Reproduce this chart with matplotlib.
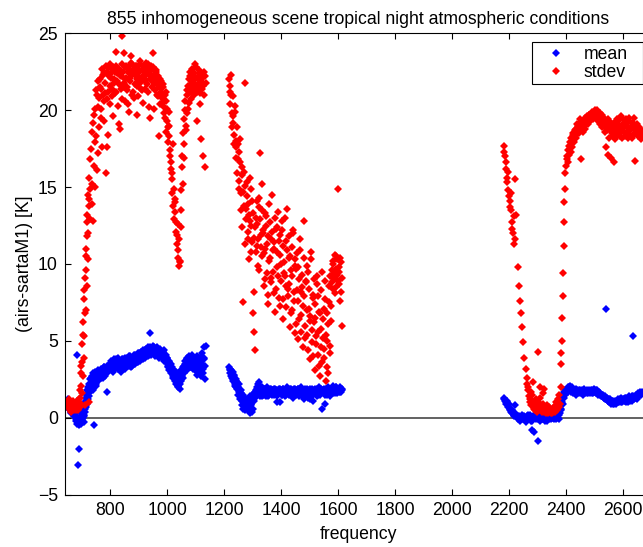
import matplotlib
matplotlib.use("Agg")
import matplotlib.pyplot as plt

# ---------------- data ----------------
# band 1 (main channel set)
freq_b1 = [650, 653, 656, 659, 662, 665, 668, 671, 674, 677, 680, 683, 686, 689, 692,
           694, 695.5, 697, 698.5, 700, 701.5, 703, 704.5, 706, 707.5, 709, 710.5, 712, 713.5, 715,
           716.5, 718, 719.5, 721, 722.5, 724, 725.5, 727, 728.5, 730,
           733, 736, 739, 742, 745, 748, 751, 754, 757, 760, 763, 766, 769, 772, 775, 778, 781, 784,
           787, 790, 793, 796, 799,
           802, 805, 808, 811, 814, 817, 820, 823, 826, 829,
           832, 835, 838, 841, 844, 847, 850, 853, 856, 859,
           862, 865, 868, 871, 874, 877, 880, 883, 886, 889,
           892, 895, 898, 901, 904, 907, 910, 913, 916, 919,
           922, 925, 928, 931, 934, 937, 940, 943, 946, 949,
           952, 955, 958, 961, 964, 967, 970, 973, 976, 979,
           982, 985, 988, 991, 994, 997, 1000, 1003, 1006, 1009, 1012, 1015, 1018, 1021, 1024,
           1027, 1030, 1033, 1036, 1039, 1042,
           1045, 1048, 1051, 1054, 1057, 1060, 1063, 1066, 1069, 1072, 1075, 1078, 1081, 1084, 1087,
           1090, 1093, 1096, 1099, 1102, 1105, 1108, 1111, 1114, 1117, 1120, 1123, 1126, 1129, 1132, 1135]
mean_b1 = [0.9, 1.2, 0.6, 0.8, 0.4, 0.7, 0.5, 0.3, 0.6, 0.2, -0.1, 4.1, -3.1, -2.0, -0.3,
           -0.2, 0.1, -0.4, 0.3, -0.1, 0.5, 0.0, 0.6, -0.3, 0.8, 0.2, 1.0, 0.4, 1.3, 0.7,
           1.5, 0.9, 1.8, 1.2, 2.0, 1.6, 2.2, 1.4, 2.5, 1.9,
           2.6, 2.0, 2.9, -0.5, 2.4, 3.0, 2.2, 2.7, 3.1, 2.5, 2.8, 3.2, 2.6, 3.0, 2.9, 3.3, 2.7, 3.1,
           3.4, 1.7, 3.0, 3.3, 3.5,
           3.3, 3.6, 3.1, 3.5, 3.8, 3.2, 3.6, 3.4, 3.9, 3.3,
           3.7, 3.5, 3.0, 3.8, 3.4, 3.6, 3.9, 3.2, 3.7, 3.5,
           3.8, 3.4, 4.0, 3.6, 3.3, 3.9, 3.7, 4.1, 3.5, 3.8,
           4.0, 3.6, 4.2, 3.9, 3.7, 4.3, 4.0, 3.8, 4.4, 4.1,
           3.9, 4.5, 4.2, 4.0, 4.6, 4.3, 5.5, 4.1, 4.4, 4.7,
           4.2, 4.5, 4.0, 4.4, 4.6, 4.2, 3.9, 4.3, 4.5, 4.1,
           4.3, 4.0, 4.4, 3.8, 4.1, 3.6, 3.9, 3.4, 3.7, 3.2, 3.5, 2.9, 3.3, 2.7, 3.1,
           2.5, 3.0, 2.3, 2.8, 2.0, 2.6,
           1.9, 2.4, 3.0, 2.6, 3.4, 2.9, 3.7, 3.2, 3.9, 3.5, 4.0, 3.3, 3.8, 3.6, 4.1,
           3.4, 3.9, 3.1, 3.7, 3.5, 2.8, 3.6, 3.2, 3.9, 3.0, 3.5, 4.2, 2.9, 3.8, 2.5, 4.7]
stdev_b1 = [1.0, 0.7, 0.9, 0.5, 0.8, 0.6, 1.1, 0.5, 0.7, 0.9, 0.6, 0.8, 0.5, 1.2, 0.7,
            1.3, 2.1, 0.9, 3.4, 1.6, 4.8, 2.7, 6.2, 3.9, 7.7, 5.3, 9.1, 0.8, 10.5, 7.0,
            11.8, 13.2, 8.6, 14.5, 12.0, 15.6, 13.8, 1.0, 16.8, 14.9,
            17.5, 13.9, 19.2, 16.4, 20.1, 15.0, 18.3, 21.0, 17.2, 20.8, 22.0, 19.5, 21.4, 17.6, 22.3,
            20.6, 21.8, 15.9, 22.5, 17.6, 21.2, 22.8, 20.4,
            22.1, 21.4, 22.6, 19.6, 22.0, 21.1, 23.8, 22.4, 20.3, 21.7,
            22.7, 18.8, 22.2, 24.8, 21.5, 23.7, 22.0, 20.6, 22.9, 21.3,
            22.5, 19.9, 22.1, 23.1, 23.5, 21.0, 22.6, 20.8, 22.3, 22.9,
            21.6, 19.7, 22.7, 22.1, 23.0, 21.4, 22.6, 22.2, 20.5, 22.8,
            21.9, 23.1, 22.4, 21.2, 22.7, 20.2, 22.0, 22.9, 21.5, 23.7,
            22.3, 20.1, 21.8, 22.6, 21.0, 22.2, 18.3, 21.6, 20.4, 21.9,
            20.8, 21.5, 20.2, 19.5, 21.2, 18.6, 20.1, 17.9, 19.0, 17.0, 16.2, 15.5, 14.6, 13.8, 12.9,
            14.2, 12.1, 11.3, 10.4, 12.6, 9.9,
            10.2, 13.5, 17.0, 15.2, 19.4, 17.8, 20.6, 19.0, 21.3, 20.1, 22.0, 21.2, 22.5, 20.7, 21.8,
            22.3, 21.0, 23.0, 21.6, 22.1, 19.3, 21.7, 22.4, 21.1, 18.1, 22.0, 21.4, 17.0, 22.2, 16.3, 21.8]

# band 1 (interleaved channels)
freq_b1x = [651.5, 654.5, 657.5, 660.5, 663.5, 666.5, 669.5, 672.5, 675.5, 678.5, 681.5, 684.5, 687.5, 690.5,
            695, 698, 701, 704, 707, 710, 713, 716, 719, 722, 725, 728,
            734.5, 737.5, 740.5, 743.5, 746.5, 749.5, 752.5, 755.5, 758.5, 761.5,
            764.5, 767.5, 770.5, 773.5, 776.5, 779.5, 782.5, 785.5, 788.5, 791.5,
            794.5, 797.5, 800.5, 803.5, 806.5, 809.5, 812.5, 815.5, 818.5, 821.5,
            824.5, 827.5, 830.5, 833.5, 836.5, 839.5, 842.5, 845.5, 848.5, 851.5,
            854.5, 857.5, 860.5, 863.5, 866.5, 869.5, 872.5, 875.5, 878.5, 881.5,
            884.5, 887.5, 890.5, 893.5, 896.5, 899.5, 902.5, 905.5, 908.5, 911.5,
            914.5, 917.5, 920.5, 923.5, 926.5, 929.5, 932.5, 935.5, 938.5, 941.5,
            944.5, 947.5, 950.5, 953.5, 956.5, 959.5, 962.5, 965.5, 968.5, 971.5,
            974.5, 977.5, 980.5, 983.5, 986.5, 989.5, 992.5, 995.5, 998.5, 1001.5,
            1004.5, 1007.5, 1010.5, 1013.5, 1016.5, 1019.5, 1022.5, 1025.5, 1028.5, 1031.5,
            1034.5, 1037.5, 1040.5, 1043.5, 1046.5, 1049.5, 1052.5, 1055.5, 1058.5, 1061.5,
            1064.5, 1067.5, 1070.5, 1073.5, 1076.5, 1079.5, 1082.5, 1085.5, 1088.5, 1091.5,
            1094.5, 1097.5, 1100.5, 1103.5, 1106.5, 1109.5, 1112.5, 1115.5, 1118.5, 1121.5,
            1124.5, 1127.5, 1130.5, 1133.5]
mean_b1x = [0.7, 1.0, 0.5, 0.3, 0.8, 0.4, 0.6, 0.1, 0.3, -0.2, 0.0, -0.4, -0.1, -0.5,
            0.0, -0.2, 0.2, 0.4, 0.1, 0.6, 0.9, 1.1, 1.4, 1.7, 1.9, 2.2,
            2.3, 2.7, 1.8, 2.5, 2.8, 2.1, 2.9, 2.4, 2.6, 3.0,
            2.7, 3.1, 2.9, 2.6, 3.3, 2.8, 3.2, 2.9, 3.0, 3.4,
            3.1, 3.5, 3.2, 3.7, 3.4, 3.0, 3.6, 3.3, 3.5, 3.8,
            3.4, 3.2, 3.7, 3.5, 3.1, 3.6, 3.3, 3.8, 3.5, 3.4,
            3.6, 3.9, 3.5, 3.8, 4.0, 3.6, 3.9, 3.4, 3.8, 4.0,
            3.7, 4.1, 3.8, 4.0, 3.6, 4.2, 3.9, 4.1, 3.8, 4.3,
            4.0, 4.3, 4.1, 4.4, 4.2, 4.5, 4.3, 4.1, 4.6, 4.4,
            4.2, 4.5, 4.3, 4.6, 4.2, 4.4, 4.1, 4.5, 4.3, 4.0,
            4.4, 4.2, 3.9, 4.3, 4.0, 3.7, 4.1, 3.6, 3.9, 3.3,
            3.6, 3.1, 3.4, 2.9, 3.2, 2.6, 3.0, 2.4, 2.9, 2.2,
            2.7, 2.1, 2.5, 2.2, 2.8, 3.1, 2.7, 3.3, 3.0, 3.5,
            3.4, 3.8, 3.1, 3.6, 3.9, 3.3, 3.7, 4.0, 3.2, 3.6,
            3.8, 3.3, 3.6, 4.0, 3.1, 3.7, 3.4, 3.9, 2.7, 3.5,
            3.2, 3.9, 4.6, 3.4]
stdev_b1x = [0.8, 1.2, 0.6, 0.9, 0.4, 1.0, 0.7, 0.6, 0.9, 0.5, 0.8, 1.1, 0.6, 0.9,
             1.8, 2.9, 3.6, 5.4, 8.3, 6.8, 11.0, 9.6, 12.7, 10.3, 14.2, 12.9,
             15.2, 18.6, 12.8, 19.7, 17.9, 21.3, 16.1, 20.2, 21.9, 18.9,
             21.5, 20.1, 22.7, 21.0, 19.3, 22.4, 21.1, 22.9, 20.7, 18.4,
             22.2, 21.6, 23.0, 22.4, 20.9, 22.8, 21.8, 22.5, 21.2, 22.9,
             21.9, 22.6, 19.1, 22.3, 21.4, 23.0, 20.7, 22.5, 21.8, 22.8,
             22.1, 21.5, 22.8, 20.4, 22.6, 21.9, 22.3, 23.0, 21.2, 22.7,
             22.4, 21.7, 22.9, 22.0, 20.9, 22.5, 21.8, 23.2, 22.1, 21.3,
             22.6, 22.0, 21.4, 22.8, 22.3, 21.7, 23.0, 22.5, 19.5, 22.2,
             22.6, 21.9, 22.8, 22.2, 21.3, 22.5, 21.8, 22.0, 20.9, 21.5,
             22.0, 21.2, 20.5, 21.7, 20.9, 19.8, 21.0, 20.6, 19.3, 18.9,
             18.3, 19.9, 17.4, 16.6, 15.9, 17.8, 14.9, 14.0, 13.4, 12.7,
             11.9, 10.9, 11.6, 10.1, 12.4, 14.8, 16.3, 18.5, 16.9, 20.0,
             18.7, 21.0, 19.8, 21.6, 20.5, 22.2, 21.5, 22.7, 21.3, 22.0,
             22.4, 21.7, 22.8, 21.2, 22.1, 21.5, 22.6, 20.4, 21.9, 22.3,
             21.6, 22.5, 21.0, 22.2]

# band 2 (main channel set)
freq_b2 = [1217, 1220, 1223, 1226, 1229, 1232, 1235, 1238, 1241, 1244,
           1247, 1250, 1253, 1256, 1259, 1262, 1265, 1268, 1271, 1274,
           1277, 1280, 1283, 1286, 1289, 1292, 1295, 1298, 1301, 1304,
           1307, 1310, 1313, 1316, 1319, 1322, 1325, 1328, 1331, 1334,
           1337, 1340, 1343, 1346, 1349, 1352, 1355, 1358, 1361, 1364,
           1367, 1370, 1373, 1376, 1379, 1382, 1385, 1388, 1391, 1394,
           1397, 1400, 1403, 1406, 1409, 1412, 1415, 1418, 1421, 1424,
           1427, 1430, 1433, 1436, 1439, 1442, 1445, 1448, 1451, 1454,
           1457, 1460, 1463, 1466, 1469, 1472, 1475, 1478, 1481, 1484,
           1487, 1490, 1493, 1496, 1499, 1502, 1505, 1508, 1511, 1514,
           1517, 1520, 1523, 1526, 1529, 1532, 1535, 1538, 1541, 1544,
           1547, 1550, 1553, 1556, 1559, 1562, 1565, 1568, 1571, 1574,
           1577, 1580, 1583, 1586, 1589, 1592, 1595, 1598, 1601, 1604,
           1607, 1610, 1613]
mean_b2 = [3.3, 2.9, 3.1, 2.6, 3.0, 2.4, 2.8, 2.2, 2.5, 1.9,
           2.0, 1.7, 2.2, 1.4, 1.8, 1.1, 1.5, 0.9, 1.3, 0.7,
           1.1, 0.6, 1.0, 0.8, 1.4, 0.5, 0.9, 0.4, 1.2, 1.6,
           1.3, 1.8, 2.0, 1.5, 1.7, 2.3, 1.6, 1.9, 1.4, 1.8,
           1.7, 1.5, 1.9, 1.6, 2.0, 1.8, 1.4, 1.7, 1.9, 1.6,
           1.8, 1.7, 1.5, 1.9, 1.6, 1.8, 1.0, 1.7, 1.9, 1.0,
           1.6, 1.8, 1.5, 1.9, 1.7, 1.4, 1.8, 1.6, 2.0, 1.7,
           1.5, 1.9, 1.7, 1.6, 1.8, 1.3, 1.9, 1.7, 1.5, 1.8,
           1.6, 1.9, 1.4, 1.7, 2.0, 1.5, 1.8, 1.2, 1.7, 1.9,
           1.6, 1.8, 1.3, 1.7, 1.9, 1.5, 1.8, 1.6, 1.1, 1.7,
           1.9, 1.6, 1.8, 1.4, 1.7, 2.0, 1.5, 1.8, 1.6, 0.6,
           1.7, 1.9, 0.9, 1.6, 1.8, 1.5, 2.0, 1.7, 1.4, 1.8,
           1.9, 1.6, 2.1, 1.7, 1.8, 2.0, 1.6, 1.9, 1.7, 1.8,
           2.0, 1.7, 1.9]
stdev_b2 = [22.0, 21.2, 22.3, 19.8, 20.9, 19.2, 18.4, 20.3, 17.6, 18.9,
            16.8, 17.3, 15.4, 18.1, 14.6, 16.3, 7.5, 13.8, 21.8, 15.1,
            12.9, 14.4, 11.6, 13.2, 15.6, 10.8, 12.5, 14.1, 6.8, 5.6,
            4.4, 13.0, 11.2, 12.6, 9.9, 14.3, 17.2, 11.9, 13.5, 10.5,
            12.2, 8.6, 11.0, 13.1, 9.4, 11.8, 7.4, 10.2, 12.7, 9.1,
            14.5, 10.9, 8.1, 11.4, 6.9, 12.3, 9.8, 13.4, 7.8, 10.6,
            11.9, 8.9, 12.8, 6.4, 10.1, 9.2, 11.5, 7.2, 13.6, 8.4,
            10.4, 5.9, 9.6, 11.1, 7.0, 12.0, 8.2, 9.9, 6.1, 10.7,
            7.6, 5.1, 9.0, 11.6, 6.7, 8.5, 4.6, 7.9, 12.8, 6.0,
            8.8, 5.4, 9.5, 7.1, 3.8, 6.6, 10.3, 4.9, 8.0, 6.2,
            3.1, 7.4, 5.3, 9.2, 4.1, 6.9, 2.7, 5.8, 8.3, 3.6,
            6.4, 4.5, 7.7, 2.4, 5.0, 3.3, 6.1, 8.6, 4.2, 7.3,
            9.6, 8.4, 10.2, 9.0, 8.1, 10.5, 9.3, 14.9, 8.7, 9.8,
            7.6, 10.1, 6.0]

# band 2 (interleaved channels)
freq_b2x = [1218.5, 1221.5, 1224.5, 1227.5, 1230.5, 1233.5, 1236.5, 1239.5, 1242.5, 1245.5,
            1248.5, 1251.5, 1254.5, 1257.5, 1260.5, 1263.5, 1266.5, 1269.5, 1272.5, 1275.5,
            1278.5, 1281.5, 1284.5, 1287.5, 1290.5, 1293.5, 1296.5, 1299.5, 1302.5, 1305.5,
            1308.5, 1311.5, 1314.5, 1317.5, 1320.5, 1323.5, 1326.5, 1329.5, 1332.5, 1335.5,
            1338.5, 1341.5, 1344.5, 1347.5, 1350.5, 1353.5, 1356.5, 1359.5, 1362.5, 1365.5,
            1368.5, 1371.5, 1374.5, 1377.5, 1380.5, 1383.5, 1386.5, 1389.5, 1392.5, 1395.5,
            1398.5, 1401.5, 1404.5, 1407.5, 1410.5, 1413.5, 1416.5, 1419.5, 1422.5, 1425.5,
            1428.5, 1431.5, 1434.5, 1437.5, 1440.5, 1443.5, 1446.5, 1449.5, 1452.5, 1455.5,
            1458.5, 1461.5, 1464.5, 1467.5, 1470.5, 1473.5, 1476.5, 1479.5, 1482.5, 1485.5,
            1488.5, 1491.5, 1494.5, 1497.5, 1500.5, 1503.5, 1506.5, 1509.5, 1512.5, 1515.5,
            1518.5, 1521.5, 1524.5, 1527.5, 1530.5, 1533.5, 1536.5, 1539.5, 1542.5, 1545.5,
            1548.5, 1551.5, 1554.5, 1557.5, 1560.5, 1563.5, 1566.5, 1569.5, 1572.5, 1575.5,
            1578.5, 1581.5, 1584.5, 1587.5, 1590.5, 1593.5, 1596.5, 1599.5, 1602.5, 1605.5,
            1608.5, 1611.5]
mean_b2x = [3.1, 3.2, 2.7, 2.9, 2.5, 2.7, 2.1, 2.4, 2.0, 2.3,
            1.5, 1.9, 1.2, 1.6, 0.8, 1.3, 0.6, 1.0, 0.5, 0.9,
            0.7, 1.2, 0.5, 1.0, 0.3, 0.8, 1.1, 0.6, 1.4, 1.1,
            1.7, 1.5, 1.9, 2.2, 1.6, 1.8, 1.4, 1.7, 2.0, 1.5,
            1.8, 1.6, 1.9, 1.4, 1.7, 1.9, 1.5, 1.8, 1.6, 1.9,
            1.5, 1.8, 1.6, 1.9, 1.7, 1.4, 1.8, 1.6, 1.7, 1.9,
            1.7, 1.5, 1.9, 1.6, 1.8, 1.7, 1.5, 1.9, 1.6, 1.8,
            1.8, 1.6, 1.9, 1.7, 1.5, 1.8, 1.6, 1.9, 1.7, 1.6,
            1.9, 1.7, 1.5, 1.8, 1.6, 1.9, 1.7, 1.4, 1.8, 1.6,
            1.7, 1.9, 1.6, 1.8, 1.2, 1.7, 1.9, 1.5, 1.8, 1.6,
            1.8, 1.6, 1.9, 1.7, 1.5, 1.8, 1.6, 1.9, 1.7, 1.8,
            1.6, 1.8, 1.5, 1.9, 1.7, 1.6, 1.8, 1.9, 1.5, 1.7,
            1.8, 1.7, 1.9, 1.6, 1.8, 2.0, 1.7, 1.9, 1.8, 1.7,
            1.9, 1.8]
stdev_b2x = [21.6, 20.4, 21.0, 18.9, 19.6, 17.8, 19.9, 16.9, 18.0, 15.9,
             17.8, 14.9, 16.6, 13.5, 15.8, 12.4, 14.7, 16.0, 11.3, 13.6,
             15.3, 12.1, 13.9, 10.3, 12.8, 14.9, 11.4, 13.3, 8.2, 11.7,
             12.4, 10.8, 14.1, 11.6, 13.7, 9.6, 12.9, 11.1, 15.2, 12.0,
             10.7, 13.3, 9.0, 12.5, 11.3, 8.0, 13.9, 10.4, 11.6, 8.8,
             12.1, 9.5, 11.0, 13.0, 8.4, 10.8, 12.4, 9.2, 11.5, 7.3,
             10.0, 12.2, 7.7, 11.2, 9.4, 13.0, 8.6, 10.9, 7.9, 11.8,
             8.7, 10.5, 6.8, 9.2, 12.2, 7.6, 10.3, 5.5, 9.7, 8.3,
             9.8, 6.4, 10.9, 8.2, 5.6, 9.3, 7.3, 10.4, 5.2, 8.9,
             7.0, 9.9, 4.4, 8.4, 6.3, 10.8, 5.7, 7.8, 4.0, 9.0,
             6.5, 4.8, 8.7, 5.6, 7.9, 3.4, 6.8, 4.6, 9.5, 5.2,
             7.1, 3.9, 8.9, 5.4, 6.8, 2.9, 7.5, 4.7, 9.2, 6.3,
             8.8, 10.0, 9.4, 10.6, 8.5, 9.7, 10.3, 8.9, 9.5, 10.4,
             8.2, 9.1]

# band 3 (main channel set)
freq_b3 = [2181, 2185, 2189, 2193, 2197, 2201, 2205, 2209, 2213, 2217,
           2221, 2225, 2229, 2233, 2237, 2241, 2245, 2249, 2253, 2257,
           2261, 2265, 2269, 2273, 2277, 2281, 2285, 2289, 2293, 2297,
           2301, 2305, 2309, 2313, 2317, 2321, 2325, 2329, 2333, 2337,
           2341, 2345, 2349, 2353, 2357, 2361, 2365, 2369, 2373, 2377,
           2380, 2381.5, 2383, 2384.5, 2386, 2387.5, 2389, 2390.5, 2392, 2393.5, 2395, 2397, 2399,
           2401, 2405, 2409, 2413, 2417, 2421, 2425, 2429, 2433, 2437,
           2441, 2445, 2449, 2453, 2457, 2461, 2465, 2469, 2473, 2477,
           2481, 2485, 2489, 2493, 2497, 2501, 2505, 2509, 2513, 2517,
           2521, 2525, 2529, 2533, 2537, 2541, 2545, 2549, 2553, 2557,
           2561, 2565, 2569, 2573, 2577, 2581, 2585, 2589, 2593, 2597,
           2601, 2605, 2609, 2613, 2617, 2621, 2625, 2629, 2633, 2637,
           2641, 2645, 2649, 2653, 2657, 2661, 2665]
mean_b3 = [1.3, 1.1, 0.9, 1.0, 0.7, 0.5, 0.6, 0.3, 0.4, 0.1,
           0.8, 0.2, -0.1, 0.1, -0.2, 0.0, 0.2, -0.1, 0.1, -0.3,
           0.0, 0.2, -0.1, 0.1, -0.2, -0.8, 0.0, 0.2, -0.1, 0.1,
           -1.5, 0.0, 0.2, -0.1, 0.1, 0.0, -0.2, 0.1, 0.0, 0.2,
           -0.1, 0.1, 0.0, 0.2, -0.1, 0.1, 0.0, 0.2, -0.1, 0.3,
           0.5, 0.8, 0.6, 1.0, 1.2, 0.9, 1.4, 1.6, 1.3, 1.7, 1.5, 1.8, 1.6,
           1.9, 1.7, 2.0, 2.1, 1.8, 1.9, 1.6, 1.7, 1.5, 1.8,
           1.7, 1.6, 1.8, 1.7, 1.5, 1.8, 1.6, 1.7, 1.8, 1.6,
           1.7, 1.8, 1.6, 1.7, 1.9, 1.7, 1.6, 1.8, 1.7, 1.6,
           1.5, 1.4, 1.5, 1.3, 1.2, 7.1, 1.1, 1.0, 1.2, 0.9,
           1.1, 1.0, 0.9, 1.1, 1.0, 1.2, 1.0, 1.1, 1.3, 1.0,
           1.2, 1.1, 1.3, 1.2, 1.0, 1.3, 1.1, 1.4, 5.3, 1.2,
           1.3, 1.5, 1.2, 1.4, 1.6, 1.5, 1.7]
stdev_b3 = [17.7, 17.0, 16.2, 15.6, 14.8, 14.1, 13.5, 12.7, 12.0, 11.3,
            15.5, 13.2, 9.8, 8.6, 7.6, 6.8, 5.9, 4.9, 3.9, 3.2,
            2.2, 1.8, 1.4, 1.0, 0.8, 1.5, 0.6, 0.5, 1.2, 0.4,
            4.3, 0.7, 2.0, 0.4, 0.9, 1.9, 0.5, 0.3, 0.8, 0.4,
            0.6, 0.3, 0.5, 0.4, 0.7, 0.5, 1.0, 0.6, 1.5, 0.9,
            2.0, 3.5, 4.2, 5.0, 6.5, 7.9, 9.4, 11.2, 12.7, 14.0, 14.9, 15.9, 16.4,
            16.8, 17.4, 17.1, 17.9, 18.2, 17.6, 18.5, 18.3, 18.8, 18.6,
            19.0, 18.7, 19.2, 16.8, 19.3, 19.0, 19.5, 19.2, 19.6, 19.4,
            19.7, 19.5, 19.8, 19.6, 19.9, 20.0, 19.7, 19.9, 19.6, 19.8,
            19.4, 19.7, 19.2, 19.5, 18.9, 17.6, 17.1, 19.3, 18.7, 16.9,
            19.1, 18.4, 16.6, 18.9, 19.4, 18.6, 19.0, 18.3, 19.6, 18.8,
            19.2, 18.5, 19.4, 18.9, 18.2, 19.3, 18.7, 19.0, 18.4, 19.5,
            16.7, 18.6, 19.1, 18.3, 18.8, 18.1, 18.6]

# band 3 (interleaved channels)
freq_b3x = [2183, 2187, 2191, 2195, 2199, 2203, 2207, 2211, 2215, 2219,
            2263, 2267, 2271, 2275, 2279, 2283, 2287, 2291, 2295, 2299,
            2303, 2307, 2311, 2315, 2319, 2323, 2327, 2331, 2335, 2339,
            2343, 2347, 2351, 2355, 2359, 2363, 2367, 2371, 2375,
            2403, 2407, 2411, 2415, 2419, 2423, 2427, 2431, 2435, 2439,
            2443, 2447, 2451, 2455, 2459, 2463, 2467, 2471, 2475, 2479,
            2483, 2487, 2491, 2495, 2499, 2503, 2507, 2511, 2515, 2519,
            2523, 2527, 2531, 2535, 2539, 2543, 2547, 2551, 2555, 2559,
            2563, 2567, 2571, 2575, 2579, 2583, 2587, 2591, 2595, 2599,
            2603, 2607, 2611, 2615, 2619, 2623, 2627, 2631, 2635, 2639,
            2643, 2647, 2651, 2655, 2659, 2663]
mean_b3x = [1.2, 1.0, 1.1, 0.8, 0.9, 0.6, 0.4, 0.5, 0.2, 0.3,
            0.1, -0.1, 0.2, 0.0, -0.2, 0.1, -0.9, 0.0, 0.2, -0.1,
            0.1, -0.2, 0.0, 0.2, -0.1, 0.1, 0.0, -0.2, 0.1, 0.0,
            0.2, -0.1, 0.1, 0.0, 0.2, -0.1, 0.1, 0.0, 0.2,
            1.8, 2.0, 1.9, 1.7, 2.0, 1.7, 1.8, 1.6, 1.9, 1.6,
            1.8, 1.7, 1.6, 1.8, 1.7, 1.9, 1.7, 1.6, 1.7, 1.8,
            1.6, 1.7, 1.8, 1.6, 1.7, 1.8, 1.7, 1.5, 1.6, 1.5,
            1.4, 1.5, 1.3, 1.4, 1.2, 1.3, 1.1, 1.2, 1.0, 1.1,
            0.9, 1.1, 1.0, 0.9, 1.1, 1.0, 1.2, 1.0, 1.1, 1.2,
            1.1, 1.3, 1.0, 1.2, 1.4, 1.2, 1.3, 1.1, 1.4, 1.3,
            1.4, 1.3, 1.6, 1.5, 1.7, 1.6]
stdev_b3x = [17.3, 16.6, 15.3, 16.0, 14.4, 13.7, 14.6, 12.3, 13.1, 11.6,
             2.6, 2.0, 1.2, 1.7, 1.1, 2.3, 0.9, 0.7, 0.5, 1.0,
             0.6, 1.3, 0.5, 0.8, 1.6, 0.4, 0.6, 0.5, 0.3, 0.7,
             0.4, 0.6, 0.3, 0.5, 0.4, 0.8, 0.5, 1.2, 0.7,
             17.0, 16.6, 17.7, 17.3, 18.0, 18.4, 17.9, 18.7, 18.2, 19.1,
             18.5, 19.4, 18.9, 19.1, 18.6, 19.3, 18.8, 19.5, 19.1, 19.7,
             19.3, 19.6, 19.9, 19.4, 19.7, 19.5, 20.0, 19.3, 19.6, 19.1,
             19.5, 18.9, 19.3, 18.6, 19.2, 18.7, 19.4, 18.2, 19.0, 18.5,
             18.8, 19.2, 18.1, 18.7, 18.4, 19.3, 18.6, 19.0, 18.2, 19.4,
             18.9, 18.3, 19.1, 18.6, 19.5, 18.4, 18.9, 18.2, 19.2, 18.8,
             18.5, 19.0, 18.4, 18.9, 18.3, 18.7]

series_labels = ["mean", "stdev"]
title_text = "855 inhomogeneous scene tropical night atmospheric conditions"
xlabel_text = "frequency"
ylabel_text = "(airs-sartaM1) [K]"
xticks = [800, 1000, 1200, 1400, 1600, 1800, 2000, 2200, 2400, 2600]
yticks = [-5, 0, 5, 10, 15, 20, 25]

# ---------------- plot ----------------
plt.rcParams['font.family'] = ['Liberation Sans', 'DejaVu Sans']
FS = 12.7
fig = plt.figure(figsize=(6.43, 5.47), dpi=100)
ax = fig.add_axes([64.7 / 643, (547 - 494.7) / 547, (651.8 - 64.7) / 643, (494.7 - 33.3) / 547])

freq_all = freq_b1 + freq_b1x + freq_b2 + freq_b2x + freq_b3 + freq_b3x
mean_all = mean_b1 + mean_b1x + mean_b2 + mean_b2x + mean_b3 + mean_b3x
stdev_all = stdev_b1 + stdev_b1x + stdev_b2 + stdev_b2x + stdev_b3 + stdev_b3x

mk = dict(linestyle='none', marker='D', markersize=4.1, markeredgewidth=0)
ax.plot(freq_all, mean_all, color=(0, 0, 1), label=series_labels[0], **mk)
ax.plot(freq_all, stdev_all, color=(1, 0, 0), label=series_labels[1], **mk)
ax.axhline(0, color='#555555', linewidth=1.3, zorder=1)

ax.set_xlim(640, 2700)
ax.set_ylim(-5, 25)
ax.set_xticks(xticks)
ax.set_yticks(yticks)
ax.tick_params(direction='in', top=True, right=True, length=4, width=0.8,
               labelsize=FS, pad=5)
for s in ax.spines.values():
    s.set_linewidth(0.8)

ax.set_title(title_text, fontsize=FS, pad=7)
ax.set_xlabel(xlabel_text, fontsize=FS, labelpad=5)
ax.set_ylabel(ylabel_text, fontsize=FS, labelpad=3)

leg = ax.legend(loc='upper left', bbox_to_anchor=(0.7954, 0.883, 0.1896, 0.0975),
                mode='expand', borderaxespad=0, fancybox=False, framealpha=1,
                edgecolor='black', fontsize=FS, handlelength=2.4, handletextpad=0.35,
                borderpad=0.2, labelspacing=0.05)
leg.get_frame().set_linewidth(0.8)

fig.savefig("out.png", dpi=100)
